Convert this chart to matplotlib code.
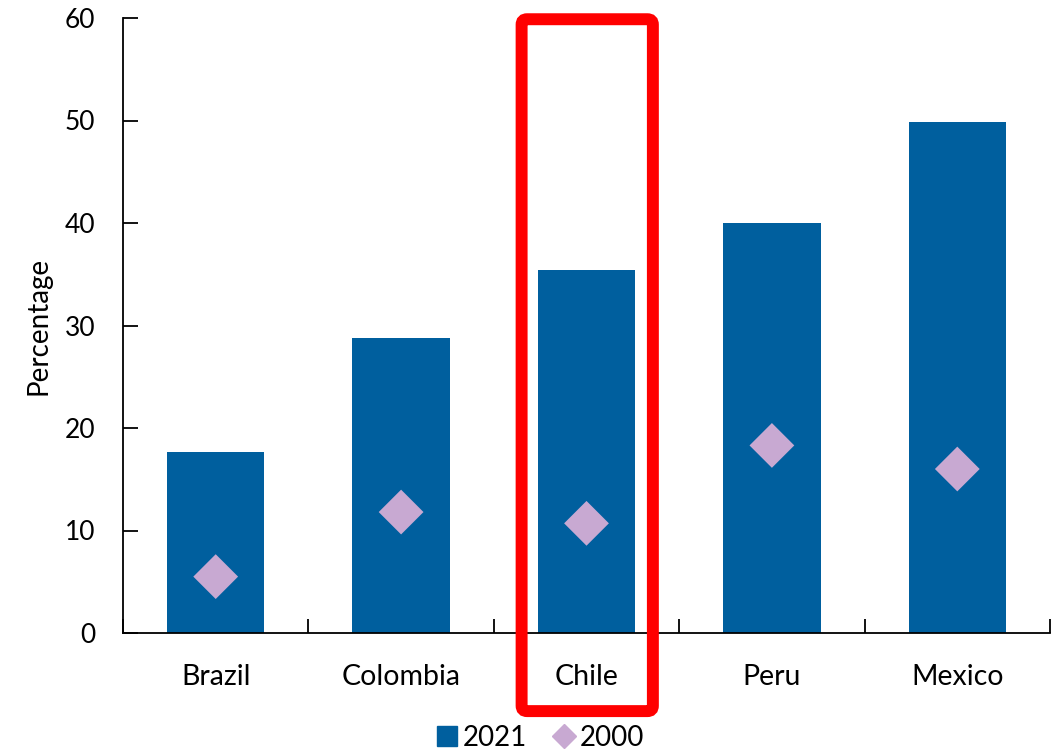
import matplotlib
matplotlib.use("Agg")
import matplotlib.pyplot as plt
from matplotlib.patches import FancyBboxPatch
from matplotlib.lines import Line2D
import numpy as np

countries = ["Brazil", "Colombia", "Chile", "Peru", "Mexico"]
share_2021 = [17.7, 28.8, 35.4, 40.0, 49.9]
share_2000 = [5.5, 11.8, 10.7, 18.3, 16.0]
highlight = "Chile"

bar_color = "#005F9E"
diamond_color = "#C8A9D2"

plt.rcParams["font.family"] = ["Lato", "DejaVu Sans"]

fig = plt.figure(figsize=(10.54, 7.51), dpi=100)
ax = fig.add_axes([123 / 1054, 1 - 633 / 751, (1050 - 123) / 1054, (633 - 18) / 751])

x = np.arange(len(countries))
ax.bar(x, share_2021, width=0.525, color=bar_color, zorder=2)
ax.scatter(x, share_2000, marker="D", s=520, color=diamond_color, zorder=3,
           edgecolors="none")

ax.set_xlim(-0.5, len(countries) - 0.5)
ax.set_ylim(0, 60)
ax.set_yticks(np.arange(0, 61, 10))
ax.set_xticks(x)
ax.set_xticklabels(countries)
ax.set_xticks(np.arange(-0.5, len(countries)), minor=True)

for s in ["top", "right"]:
    ax.spines[s].set_visible(False)
for s in ["left", "bottom"]:
    ax.spines[s].set_linewidth(1.3)

ax.tick_params(axis="y", direction="in", length=11, width=1.3, labelsize=19, pad=20)
ax.tick_params(axis="x", which="major", length=0, labelsize=20.5, pad=22)
ax.tick_params(axis="x", which="minor", direction="in", length=10, width=1.3)
ax.set_ylabel("Percentage", fontsize=20)
ax.yaxis.set_label_coords(-0.077, 0.5)

# Highlight frame around one category
i = countries.index(highlight)
trans = ax.get_xaxis_transform()
frame = FancyBboxPatch((i - 0.35, -0.127), 0.708, 1.125,
                       boxstyle="round,pad=0,rounding_size=0.03",
                       transform=trans, fill=False, edgecolor="#FF0000",
                       linewidth=8.6, clip_on=False, zorder=5,
                       mutation_aspect=0.3)
ax.add_patch(frame)

handles = [Line2D([], [], marker="s", linestyle="none", markersize=14,
                  color=bar_color, label="2021"),
           Line2D([], [], marker="D", linestyle="none", markersize=12,
                  color=diamond_color, label="2000")]
fig.legend(handles=handles, loc="center", bbox_to_anchor=(0.511, 1 - 738 / 751),
           ncol=2, frameon=False, fontsize=20, handletextpad=0.1,
           columnspacing=0.8, handlelength=1.0, borderpad=0)

fig.savefig("out.png", dpi=100)
